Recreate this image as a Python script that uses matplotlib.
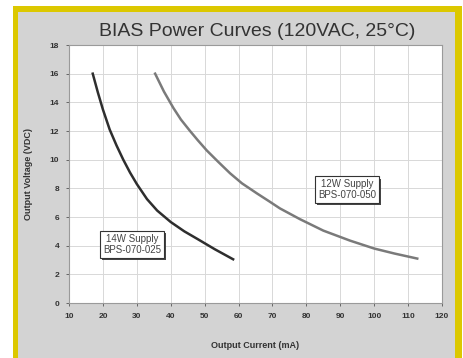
import matplotlib
matplotlib.use('Agg')
import matplotlib.pyplot as plt
from matplotlib.patches import Rectangle
from matplotlib import patheffects

plt.rc('font', family='Liberation Sans')

# curve data
i_14w = [17, 18.5, 20, 22, 24, 26, 28, 30, 33, 36, 40, 44, 48, 53, 58.4]
v_14w = [16.0, 14.7, 13.5, 12.1, 11.0, 10.0, 9.1, 8.3, 7.25, 6.45, 5.65, 5.0, 4.45, 3.75, 3.05]
i_12w = [35.4, 38, 40.8, 43, 45.7, 48, 50.6, 54, 57.5, 61, 65.4, 69, 72.2, 78.1, 85, 92.9, 100, 106, 112.7]
v_12w = [16.0, 14.75, 13.6, 12.8, 12.0, 11.35, 10.65, 9.85, 9.05, 8.35, 7.65, 7.1, 6.6, 5.85, 5.05, 4.35, 3.8, 3.45, 3.1]

x_ticks = list(range(10, 121, 10))
y_ticks = list(range(0, 19, 2))

fig = plt.figure(figsize=(4.64, 3.58), dpi=100, facecolor='white')

# yellow frame with gray panel
fig.add_artist(Rectangle((13/464, -0.1), 449/464, 1.1 - 6/358,
                         transform=fig.transFigure, facecolor='#dcc800', edgecolor='none', zorder=0))
fig.add_artist(Rectangle((18/464, -0.1), 437/464, 1.1 - 12/358,
                         transform=fig.transFigure, facecolor='#d3d3d3', edgecolor='none', zorder=0))

ax = fig.add_axes([69/464, 55/358, 373/464, 258/358])
ax.set_facecolor('white')

ax.plot(i_14w, v_14w, color='#2e2e2e', lw=1.8, zorder=3)
ax.plot(i_12w, v_12w, color='#7a7a7a', lw=1.8, zorder=3)

ax.set_xlim(10, 120)
ax.set_ylim(0, 18)
ax.set_xticks(x_ticks)
ax.set_yticks(y_ticks)
ax.grid(True, color='#d8d8d8', lw=0.7)
ax.tick_params(labelsize=6, colors='#555555', labelcolor='#333333', length=2, width=0.6, pad=5)
for lab in ax.get_xticklabels() + ax.get_yticklabels():
    lab.set_fontweight('bold')
for s in ax.spines.values():
    s.set_color('#9a9a9a')
    s.set_linewidth(0.8)

box = dict(boxstyle='square,pad=0.3', facecolor='white', edgecolor='#333333', lw=0.8)
shadow = [patheffects.withSimplePatchShadow(offset=(1.5, -1.5), shadow_rgbFace='#333333', alpha=0.9)]
for x, y, s in [(28.6, 4.1, '14W Supply\nBPS-070-025'), (92, 7.9, '12W Supply\nBPS-070-050')]:
    t = ax.text(x, y, s, fontsize=7, ha='center', va='center', color='#444444',
                bbox=box, zorder=4, linespacing=1.1)
    t.get_bbox_patch().set_path_effects(shadow)

fig.text(257/464, 1 - 32/358, 'BIAS Power Curves (120VAC, 25\u00b0C)', fontsize=14,
         ha='center', va='center', color='#333333')
ax.set_xlabel('Output Current (mA)', fontsize=6.5, fontweight='bold', color='#333333', labelpad=15)
ax.set_ylabel('Output Voltage (VDC)', fontsize=6.5, fontweight='bold', color='#333333', labelpad=12)

fig.savefig('out.png', dpi=100, facecolor='white')
